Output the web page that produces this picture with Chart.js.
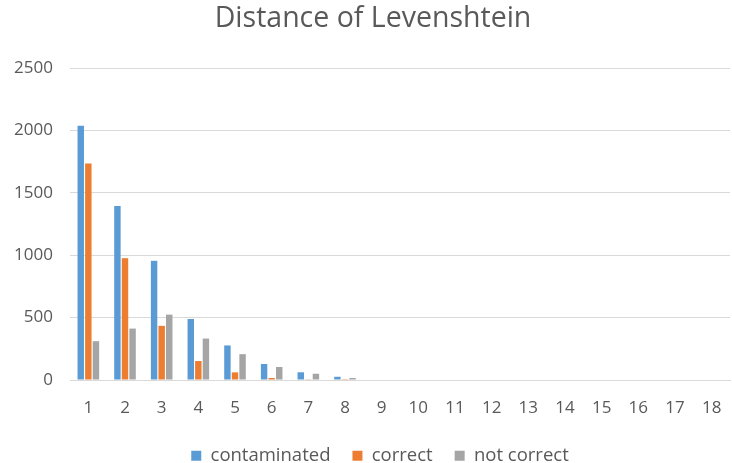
<!DOCTYPE html>
<html>
<head>
<meta charset="utf-8">
<script src="https://cdn.jsdelivr.net/npm/chart.js@4"></script>
<style>
html,body{margin:0;padding:0;background:#fff;}
#wrap{width:732px;height:463px;}
</style>
</head>
<body>
<div id="wrap"><canvas id="c" width="732" height="463"></canvas></div>
<script>
const categories = ["1","2","3","4","5","6","7","8","9","10","11","12","13","14","15","16","17","18"];
const contaminated = [2037, 1394, 955, 489, 277, 128, 62, 26, 0, 0, 0, 0, 0, 0, 0, 0, 0, 0];
const correct      = [1734, 976, 434, 152, 61, 16, 2, 1, 0, 0, 0, 0, 0, 0, 0, 0, 0, 0];
const notCorrect   = [311, 412, 524, 332, 207, 104, 50, 16, 0, 0, 0, 0, 0, 0, 0, 0, 0, 0];
const yTicks = [0, 500, 1000, 1500, 2000, 2500];

const FONT = "'Open Sans', 'Noto Sans', sans-serif";
const TXT = '#595959';

const bar = (label, data, color) => ({
  label, data, backgroundColor: color, borderWidth: 0,
  categoryPercentage: 0.62, barPercentage: 0.85
});

const layoutTweak = {
  id: 'layoutTweak',
  beforeInit(chart) {
    const orig = chart.legend.fit;
    chart.legend.fit = function () {
      orig.call(this);
      this.height = 44.6;
    };
  },
  afterLayout(chart) {
    const lg = chart.legend;
    lg.left += 15; lg.right += 15;
    lg.top += 6; lg.bottom += 6;
    const t = chart.titleBlock;
    if (t) { t.left += 8; t.right += 8; }
  }
};

new Chart(document.getElementById('c'), {
  type: 'bar',
  data: {
    labels: categories,
    datasets: [
      bar('contaminated', contaminated, '#5B9BD5'),
      bar('correct', correct, '#ED7D31'),
      bar('not correct', notCorrect, '#A5A5A5')
    ]
  },
  plugins: [layoutTweak],
  options: {
    responsive: false,
    devicePixelRatio: 1,
    animation: false,
    layout: { padding: { left: 0, right: 2, top: 2, bottom: 0 } },
    plugins: {
      title: {
        display: true, text: 'Distance of Levenshtein',
        color: TXT, font: { family: FONT, size: 28.5, weight: 'normal' },
        padding: { top: 0, bottom: 31.8 }
      },
      legend: {
        position: 'bottom',
        labels: {
          color: TXT, font: { family: FONT, size: 18.5 },
          boxWidth: 10, boxHeight: 10, padding: 22
        }
      },
      tooltip: { enabled: false }
    },
    scales: {
      x: {
        grid: { display: false, drawTicks: false },
        border: { color: '#d9d9d9', width: 1 },
        ticks: { color: TXT, font: { family: FONT, size: 17 }, padding: 18, autoSkip: false, maxRotation: 0 },
        afterFit: (axis) => { axis.height = 38.4; axis.paddingLeft = 0; axis.paddingRight = 0; }
      },
      y: {
        min: 0, max: 2500,
        afterBuildTicks: (axis) => { axis.ticks = yTicks.map(v => ({ value: v })); },
        grid: { color: '#d9d9d9', drawTicks: false },
        border: { display: false },
        ticks: { color: TXT, font: { family: FONT, size: 17 }, padding: 17, callback: (v) => String(v) },
        afterFit: (axis) => { axis.width = 70; axis.paddingTop = 0; axis.paddingBottom = 0; }
      }
    }
  }
});
</script>
</body>
</html>
